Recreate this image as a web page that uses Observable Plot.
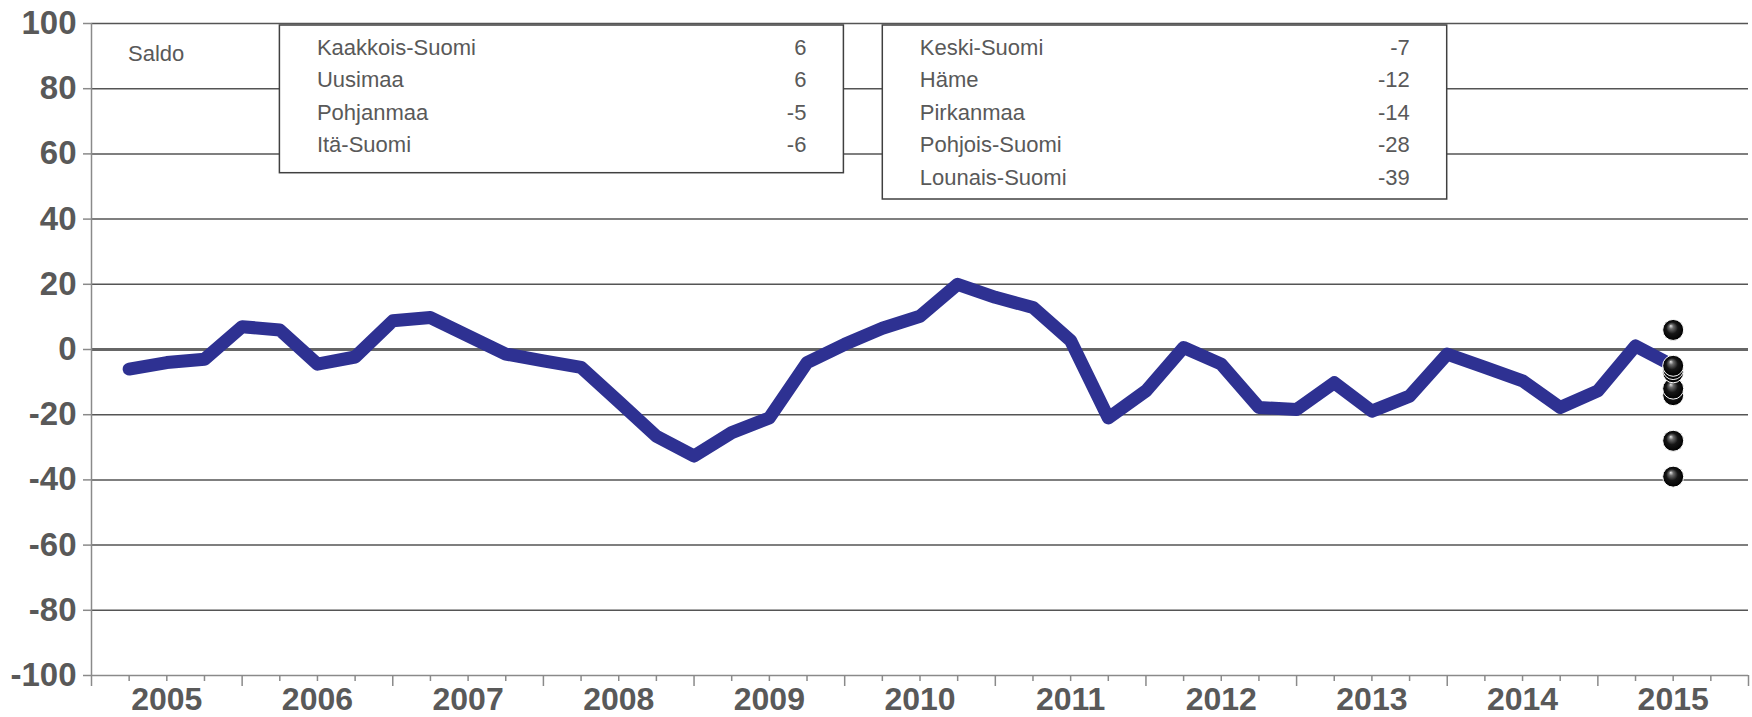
<!DOCTYPE html>
<html>
<head>
<meta charset="utf-8">
<script src="https://cdn.jsdelivr.net/npm/d3@7"></script>
<script src="https://cdn.jsdelivr.net/npm/@observablehq/plot@0.6"></script>
<style>
  html, body { margin: 0; padding: 0; background: #fff; }
  #chart { width: 1752px; height: 717px; }
</style>
</head>
<body>
<div id="chart"></div>
<script>
// ---- data ----
const years = [2005, 2006, 2007, 2008, 2009, 2010, 2011, 2012, 2013, 2014, 2015];
// quarterly balance figures (saldo)
const saldo = [
  -6, -4, -3, 7, 6, -4.5, -2.3, 8.8, 9.8, 4.2, -1.4, -3.5, -5.5, -16,
  -26.6, -32.7, -25.5, -21, -4, 1.6, 6.5, 10.2, 20, 16, 12.9, 2.7, -21, -12.7,
  0.6, -4.5, -17.8, -18.4, -10.2, -18.9, -14.3, -1.4, -5.5, -9.6, -17.8, -12.7, 1.1, -5
];
const regionsA = ["Kaakkois-Suomi", "Uusimaa", "Pohjanmaa", "Itä-Suomi"];
const valuesA = [6, 6, -5, -6];
const regionsB = ["Keski-Suomi", "Häme", "Pirkanmaa", "Pohjois-Suomi", "Lounais-Suomi"];
const valuesB = [-7, -12, -14, -28, -39];
const yTicks = [-100, -80, -60, -40, -20, 0, 20, 40, 60, 80, 100];
const quartersPerYear = 4;
const seriesLabel = "Saldo";

// ---- derived tables ----
const nSlots = years.length * quartersPerYear;
const lineData = saldo.map((v, i) => ({q: i + 1, v}));
const latest = saldo.length;
const regionData = [
  ...regionsA.map((r, i) => ({region: r, value: valuesA[i]})),
  ...regionsB.map((r, i) => ({region: r, value: valuesB[i]}))
].sort((a, b) => a.value - b.value);
const allTicks = d3.range(0, nSlots + 1);
const yearBounds = allTicks.filter(d => d % quartersPerYear === 0);
const quarterTicks = allTicks.filter(d => d % quartersPerYear !== 0);
const yearCenters = years.map((y, i) => i * quartersPerYear + quartersPerYear / 2);

const textColor = "#595959";
const axisColor = "#8a8a8a";
const font = "'Liberation Sans', Arial, sans-serif";

const chart = Plot.plot({
  width: 1752,
  height: 717,
  marginLeft: 91,
  marginRight: 4,
  marginTop: 23,
  marginBottom: 42,
  x: {domain: [0, nSlots], axis: null},
  y: {domain: [-100, 100], axis: null},
  style: {background: "white", fontFamily: font},
  marks: [
    Plot.ruleY(yTicks.filter(d => d !== 0 && d !== -100), {stroke: "#555555", strokeWidth: 1.5}),
    Plot.ruleY([0], {stroke: "#666666", strokeWidth: 3}),
    Plot.ruleY([-100], {stroke: axisColor, strokeWidth: 1.5}),
    Plot.ruleX([0], {stroke: axisColor, strokeWidth: 1.5}),
    Plot.axisY(yTicks, {
      tickSize: 8, tickPadding: 7, tickFormat: d => String(d), label: null,
      fontSize: 33, fontWeight: "bold", fill: textColor, stroke: axisColor, strokeWidth: 1.5
    }),
    Plot.axisX(quarterTicks, {tickSize: 6, tickFormat: () => "", label: null, stroke: axisColor, strokeWidth: 1.5}),
    Plot.axisX(yearBounds, {tickSize: 11, tickFormat: () => "", label: null, stroke: axisColor, strokeWidth: 1.5}),
    Plot.axisX(yearCenters, {
      tickSize: 0, tickPadding: 11.5, label: null,
      tickFormat: d => String(years[(d - quartersPerYear / 2) / quartersPerYear]),
      fontSize: 32, fontWeight: "bold", fill: textColor
    }),
    Plot.line(lineData, {
      x: "q", y: "v", stroke: "#2e3192", strokeWidth: 13,
      strokeLinejoin: "round", strokeLinecap: "round"
    }),
    Plot.dot(regionData, {
      x: () => latest, y: "value", r: 10.5,
      fill: "url(#ball)", stroke: "white", strokeWidth: 1
    })
  ]
});

const svg = d3.select(chart);
svg.insert("defs", ":first-child").html(
  `<radialGradient id="ball" cx="50%" cy="50%" r="50%" fx="38%" fy="30%">
     <stop offset="0%" stop-color="#e8e8e8"/>
     <stop offset="22%" stop-color="#6a6a6a"/>
     <stop offset="55%" stop-color="#161616"/>
     <stop offset="100%" stop-color="#000"/>
   </radialGradient>`
);

// ---- annotation boxes (legend tables) ----
const ann = svg.append("g")
  .attr("font-family", font).attr("font-size", 22).attr("fill", textColor)
  .attr("text-anchor", "start");
ann.append("text").attr("x", 128).attr("y", 61).attr("text-anchor", "start").text(seriesLabel);

function drawBox(x, y, w, h, names, vals) {
  const g = ann.append("g");
  g.append("rect").attr("x", x).attr("y", y).attr("width", w).attr("height", h)
    .attr("fill", "white").attr("stroke", "#404040").attr("stroke-width", 1.5);
  names.forEach((n, i) => {
    const by = y + 30 + i * 32.4;
    g.append("text").attr("x", x + 37.5).attr("y", by).attr("text-anchor", "start").text(n);
    g.append("text").attr("x", x + w - 37).attr("y", by).attr("text-anchor", "end").text(String(vals[i]));
  });
}
drawBox(279.4, 25, 564, 147.7, regionsA, valuesA);
drawBox(882.3, 25, 564.4, 174, regionsB, valuesB);

document.getElementById("chart").appendChild(chart);
</script>
</body>
</html>
